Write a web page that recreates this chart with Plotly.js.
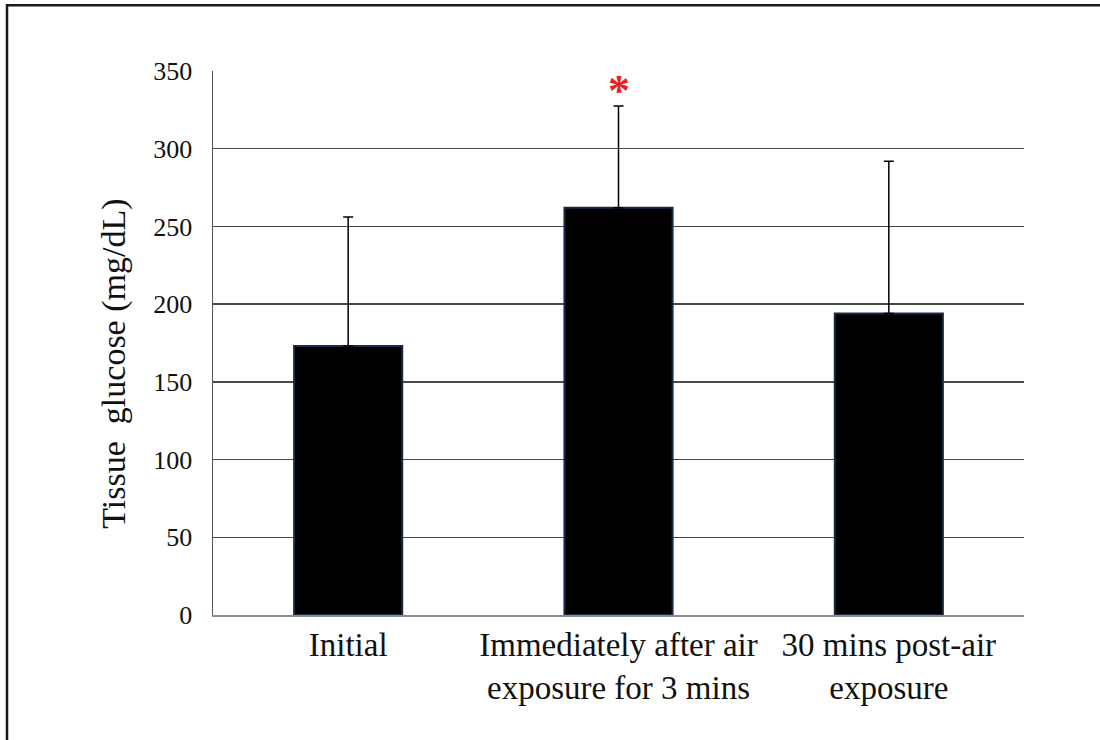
<!DOCTYPE html>
<html>
<head>
<meta charset="utf-8">
<script src="https://cdn.plot.ly/plotly-3.0.1.min.js"></script>
<style>html,body{margin:0;padding:0;background:#fff;overflow:hidden;}#chart{width:1100px;height:740px;}</style>
</head>
<body>
<div id="chart"></div>
<script>
const categories = ["Initial", "Immediately after air<br>exposure for 3 mins", "30 mins post-air<br>exposure"];
const glucose = [173, 262, 194];
const glucoseSD = [83, 65.5, 98];
const yTicks = [0, 50, 100, 150, 200, 250, 300, 350];
const significant = [false, true, false];
const yTitle = "Tissue  glucose (mg/dL)";

const serif = "Times New Roman";

const trace = {
  type: "bar",
  x: categories,
  y: glucose,
  marker: { color: "#000000", line: { color: "#1b2a48", width: 2 } },
  error_y: {
    type: "data",
    symmetric: false,
    array: glucoseSD,
    arrayminus: glucoseSD.map(() => 0),
    color: "#000000",
    thickness: 1.5,
    width: 5
  },
  hoverinfo: "none"
};

const annotations = categories
  .map((c, i) => ({ c, i }))
  .filter(d => significant[d.i])
  .map(d => ({
    x: d.c,
    y: glucose[d.i] + glucoseSD[d.i],
    xref: "x", yref: "y",
    text: "<b>*</b>",
    showarrow: false,
    yanchor: "middle",
    yshift: 15,
    font: { family: serif, size: 44, color: "#e8211c" }
  }));

// y-axis title, drawn as rotated text slightly below the axis centre as in the original
annotations.push({
  xref: "paper", yref: "paper",
  x: -0.122, y: 0.462,
  xanchor: "center", yanchor: "middle",
  textangle: -90,
  text: yTitle,
  showarrow: false,
  font: { family: serif, size: 34, color: "#111111" }
});

const layout = {
  width: 1100, height: 740,
  margin: { l: 213, r: 76, t: 71, b: 125 },
  paper_bgcolor: "#ffffff",
  plot_bgcolor: "#ffffff",
  showlegend: false,
  bargap: 0.6,
  font: { family: serif, color: "#000000" },
  xaxis: {
    type: "category",
    range: [-0.5, 2.5],
    showgrid: false,
    showline: true,
    linecolor: "#8c8c8c",
    linewidth: 1.5,
    ticks: "",
    ticklabelstandoff: 0,
    tickfont: { family: serif, size: 33, color: "#111111" },
    zeroline: false,
    fixedrange: true
  },
  yaxis: {
    range: [0, 350],
    tickvals: yTicks,
    ticktext: yTicks.map(String),
    showgrid: true,
    gridcolor: "#4a4a4a",
    gridwidth: 1.5,
    showline: true,
    linecolor: "#555555",
    linewidth: 1.5,
    zeroline: false,
    ticks: "",
    ticklabelstandoff: 14,
    tickfont: { family: serif, size: 26, color: "#111111" },
    fixedrange: true
  },
  annotations: annotations,
  shapes: [{
    type: "path",
    xref: "paper", yref: "paper",
    path: "M -0.254,-0.4 L -0.254,1.121 L 1.4,1.121",
    line: { color: "#1a1a1a", width: 2.5 },
    layer: "above"
  }]
};

Plotly.newPlot("chart", [trace], layout, { displayModeBar: false, staticPlot: true });
</script>
</body>
</html>
